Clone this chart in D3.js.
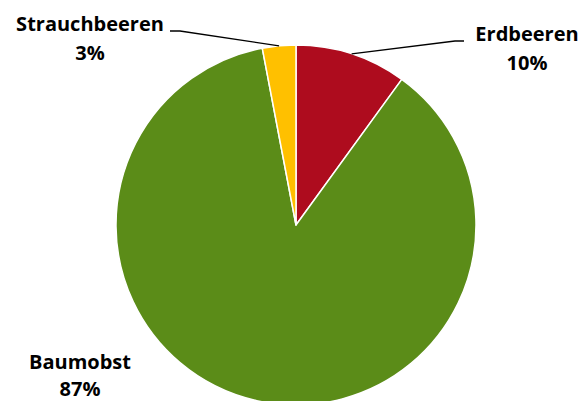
<!DOCTYPE html>
<html>
<head>
<meta charset="utf-8">
<script src="https://cdn.jsdelivr.net/npm/d3@7"></script>
<style>
html,body{margin:0;padding:0;background:#fff;}
text{font-family:"Open Sans",Lato,sans-serif;font-weight:bold;fill:#000;}
</style>
</head>
<body>
<svg id="chart" width="583" height="401"></svg>
<script>
const categories = ["Erdbeeren", "Baumobst", "Strauchbeeren"];
const values = [10, 87, 3];
const percentLabels = ["10%", "87%", "3%"];
const colors = ["#AE0C1E", "#5B8C18", "#FFC000"];

const W = 583, H = 401;
const cx = 296, cy = 225, R = 180;
const svg = d3.select("#chart");
const g = svg.append("g").attr("transform", `translate(${cx},${cy})`);

const data = categories.map((c, i) => ({cat: c, value: values[i], pct: percentLabels[i], color: colors[i]}));
const pie = d3.pie().sort(null).value(d => d.value);
const arcs = pie(data);
const arc = d3.arc().innerRadius(0).outerRadius(R);

g.selectAll("path.slice").data(arcs).enter().append("path")
  .attr("class", "slice")
  .attr("d", arc)
  .attr("fill", d => d.data.color)
  .attr("stroke", "#fff")
  .attr("stroke-width", 1.5)
  .attr("stroke-linejoin", "round");

// label layout (positions relative to svg)
const labelPos = {
  "Erdbeeren": {x: 527, y: 41, gap: 28.5, elbow: [455, 41], end: [464, 41]},
  "Baumobst": {x: 80, y: 369, gap: 27, elbow: null},
  "Strauchbeeren": {x: 90, y: 31, gap: 28.5, elbow: [180, 31], end: [170, 31]}
};

arcs.forEach(a => {
  const lp = labelPos[a.data.cat];
  const mid = (a.startAngle + a.endAngle) / 2;
  if (lp.elbow) {
    const sx = cx + Math.sin(mid) * R;
    const sy = cy - Math.cos(mid) * R;
    svg.append("polyline")
      .attr("points", [[sx, sy], lp.elbow, lp.end].map(p => p.join(",")).join(" "))
      .attr("fill", "none")
      .attr("stroke", "#000")
      .attr("stroke-width", 1.3);
  }
  const t = svg.append("text").attr("text-anchor", "middle").attr("font-size", 20);
  t.append("tspan").attr("x", lp.x).attr("y", lp.y).text(a.data.cat);
  t.append("tspan").attr("x", lp.x).attr("y", lp.y + lp.gap).text(a.data.pct);
});
</script>
</body>
</html>
